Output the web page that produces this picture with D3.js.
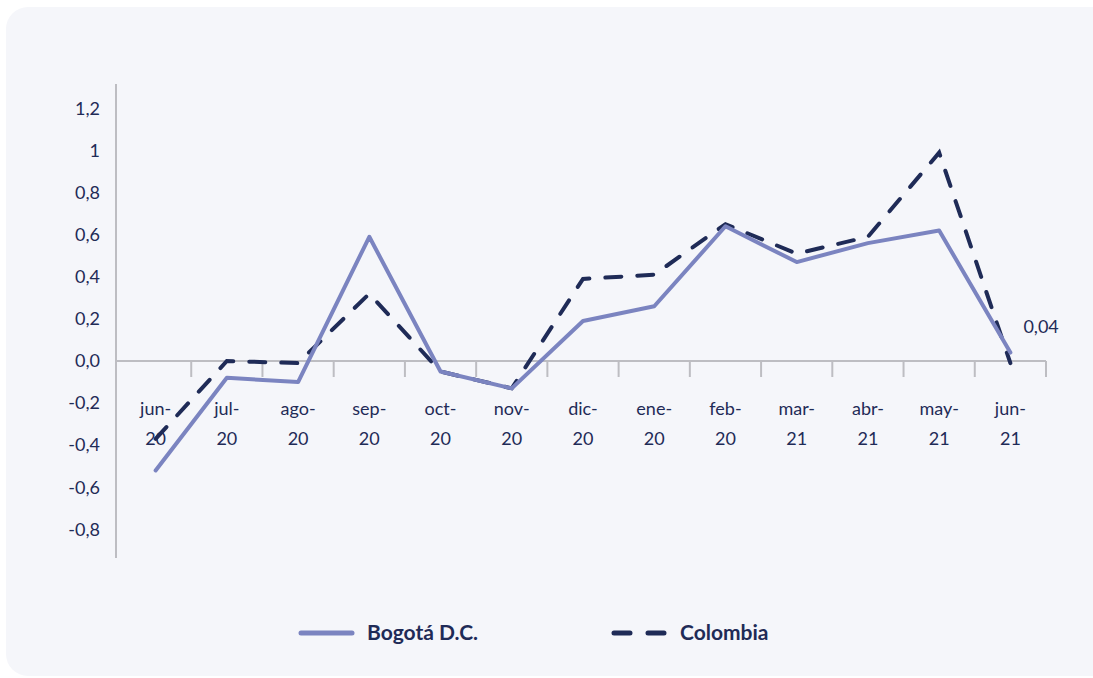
<!DOCTYPE html>
<html>
<head>
<meta charset="utf-8">
<script src="https://cdn.jsdelivr.net/npm/d3@7"></script>
<style>
  body { margin:0; background:#fff; }
  svg { display:block; font-family: "Source Sans Pro", Lato, "Noto Sans", sans-serif; }
</style>
</head>
<body>
<div id="chart"></div>
<script>
// data
var months = ['jun-|20','jul-|20','ago-|20','sep-|20','oct-|20','nov-|20','dic-|20','ene-|20','feb-|20','mar-|21','abr-|21','may-|21','jun-|21'];
var bogota   = [-0.52, -0.08, -0.10, 0.59, -0.05, -0.13, 0.19, 0.26, 0.64, 0.47, 0.56, 0.62, 0.04];
var colombia = [-0.37,  0.00, -0.01, 0.32, -0.05, -0.13, 0.39, 0.41, 0.65, 0.51, 0.59, 0.99, -0.01];
var yTicks = [-0.8, -0.6, -0.4, -0.2, 0, 0.2, 0.4, 0.6, 0.8, 1, 1.2];
var seriesNames = ['Bogotá D.C.', 'Colombia'];

var W = 1093, H = 678;
var navy = '#1f2b57', lilac = '#7b84c0', grey = '#bdbdc2';

var svg = d3.select('#chart').append('svg').attr('width', W).attr('height', H);

//card background (runs off the right edge)
svg.append('rect')
  .attr('x', 6).attr('y', 7).attr('width', W + 20).attr('height', H - 9)
  .attr('rx', 22).attr('fill', '#f5f6fa');

var x = d3.scaleBand().domain(d3.range(months.length)).range([120, 1046]);
var y = d3.scaleLinear().domain([-0.936, 1.316]).range([558, 84]);

var cx = function(i){ return x(i) + x.bandwidth()/2; };

//y axis: line + labels
svg.append('line')
  .attr('x1', 116).attr('x2', 116)
  .attr('y1', y.range()[0]).attr('y2', y.range()[1])
  .attr('stroke', grey).attr('stroke-width', 2);

svg.selectAll('.ytick').data(yTicks).enter().append('text')
  .attr('class', 'ytick')
  .attr('x', 100).attr('y', function(d){ return y(d); })
  .attr('dy', '0.35em')
  .attr('text-anchor', 'end')
  .attr('font-size', 18).attr('fill', navy)
  .text(function(d){
    if (d === 1) return '1';
    return d3.format('.1f')(d).replace('.', ',').replace('−', '-');
  });

//x axis at zero
svg.append('line')
  .attr('x1', 116).attr('x2', 1046)
  .attr('y1', y(0)).attr('y2', y(0))
  .attr('stroke', grey).attr('stroke-width', 2);

var edges = d3.range(1, months.length + 1).map(function(i){ return x.range()[0] + i * x.step(); });
svg.selectAll('.xtick').data(edges).enter().append('line')
  .attr('class', 'xtick')
  .attr('x1', function(d){ return d; }).attr('x2', function(d){ return d; })
  .attr('y1', y(0)).attr('y2', y(0) + 16)
  .attr('stroke', grey).attr('stroke-width', 2);

var xl = svg.selectAll('.xlab').data(months).enter().append('text')
  .attr('class', 'xlab')
  .attr('text-anchor', 'middle')
  .attr('font-size', 18).attr('fill', navy);
xl.append('tspan')
  .attr('x', function(d, i){ return cx(i); }).attr('y', 415)
  .text(function(d){ return d.split('|')[0]; });
xl.append('tspan')
  .attr('x', function(d, i){ return cx(i); }).attr('y', 445)
  .text(function(d){ return d.split('|')[1]; });

//lines
var line = d3.line().x(function(d, i){ return cx(i); }).y(function(d){ return y(d); });

svg.append('path').datum(colombia)
  .attr('d', line).attr('fill', 'none')
  .attr('stroke', navy).attr('stroke-width', 4)
  .attr('stroke-dasharray', '16,16').attr('stroke-linecap', 'round');

svg.append('path').datum(bogota)
  .attr('d', line).attr('fill', 'none')
  .attr('stroke', lilac).attr('stroke-width', 4)
  .attr('stroke-linejoin', 'round').attr('stroke-linecap', 'round');

//value label on last Bogotá point
var last = bogota.length - 1;
svg.append('text')
  .attr('x', cx(last) + 13).attr('y', y(bogota[last]) - 20)
  .attr('font-size', 18).attr('fill', navy)
  .text(String(bogota[last]).replace('.', ','));

//legend
var lg = svg.append('g').attr('transform', 'translate(0,633)');
lg.append('line').attr('x1', 301).attr('x2', 352).attr('y1', 0).attr('y2', 0)
  .attr('stroke', lilac).attr('stroke-width', 5).attr('stroke-linecap', 'round');
lg.append('text').attr('x', 367).attr('y', 0).attr('dy', '0.35em')
  .attr('font-size', 21).attr('font-weight', 700).attr('fill', navy)
  .text(seriesNames[0]);
lg.append('line').attr('x1', 614).attr('x2', 665).attr('y1', 0).attr('y2', 0)
  .attr('stroke', navy).attr('stroke-width', 5).attr('stroke-linecap', 'round')
  .attr('stroke-dasharray', '16,18');
lg.append('text').attr('x', 680).attr('y', 0).attr('dy', '0.35em')
  .attr('font-size', 21).attr('font-weight', 700).attr('fill', navy)
  .text(seriesNames[1]);
</script>
</body>
</html>
